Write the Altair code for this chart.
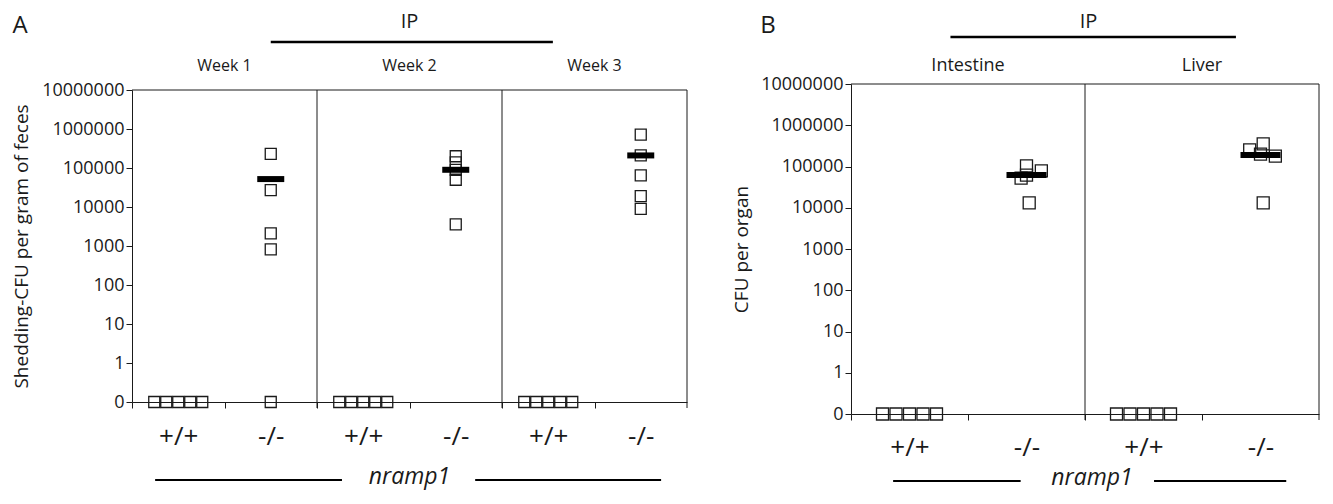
import json
import math
import altair as alt
import pandas as pd

# ---------------- data ----------------
weeks = ["Week 1", "Week 2", "Week 3"]
organs = ["Intestine", "Liver"]
genotypes = ["+/+", "-/-"]
wt_slots = [-2, -1, 0, 1, 2]

a_wt = [[0, 0, 0, 0, 0], [0, 0, 0, 0, 0], [0, 0, 0, 0, 0]]
a_ko = [[230000, 27000, 2100, 820, 0],
        [200000, 140000, 90000, 50000, 3600],
        [720000, 210000, 65000, 19000, 9000]]
a_ko_slots = [[0, 0, 0, 0, 0], [0, 0, 0, 0, 0], [0, 0, 0, 0, 0]]
a_mean = [52000, 90000, 210000]

b_wt = [[0, 0, 0, 0, 0], [0, 0, 0, 0, 0]]
b_ko = [[103000, 78000, 62000, 52000, 13200],
        [252000, 355000, 179000, 200000, 13200]]
b_ko_slots = [[0, 1.1, 0, -0.4, 0.2], [-0.8, 0.2, 1.1, 0, 0.2]]
b_mean = [62000, 190000]

y_tick_values = [0, 1, 10, 100, 1000, 10000, 100000, 1000000, 10000000]

# ---------------- styling ----------------
FONT = "Open Sans"
INK = "#1a1a1a"
LOG_EXPR = "datum.v > 0 ? log(datum.v) / LN10 : -1"


def to_level(v):
    return math.log10(v) if v > 0 else -1


tick_levels = [to_level(t) for t in y_tick_values]
Y_LABEL_EXPR = "datum.value < 0 ? '0' : format(pow(10, round(datum.value)), 'd')"
Y_MIN, Y_MAX = tick_levels[0], tick_levels[-1]
TICK = 6


def panel(groups, wt, ko, ko_slots, means, letter, ytitle, unit, height, top_pad, sq, pitch,
          bar_len, title_x, letter_xy, ip_y, ip_line_y, ip_x, ip_span,
          bottom_spans, bottom_x, bottom_y, xlab_pad, hdr_y, hdr_size):
    n = 2 * len(groups)
    width = unit * n
    total_h = height + top_pad
    rows = []
    for gi in range(len(groups)):
        for k, v in enumerate(wt[gi]):
            rows.append({"g": 2 * gi, "slot": wt_slots[k], "v": v})
        for k, v in enumerate(ko[gi]):
            rows.append({"g": 2 * gi + 1, "slot": ko_slots[gi][k], "v": v})
    pts = pd.DataFrame(rows)
    mean_df = pd.DataFrame({"g": [2 * gi + 1 for gi in range(len(groups))], "v": means})
    hdr = pd.DataFrame({"label": groups, "x": [2 * gi + 1 for gi in range(len(groups))]})
    vlines = pd.DataFrame({"b": [2 * gi for gi in range(1, len(groups) + 1)]})

    xs = alt.Scale(domain=[0, n], nice=False, zero=False)
    ys = alt.Scale(domain=[Y_MIN, Y_MAX], range=[total_h, top_pad], nice=False, zero=False)

    xaxis = alt.Axis(
        values=list(range(n)),
        labelExpr=f"{json.dumps(genotypes)}[datum.value % 2]",
        labelOffset=unit / 2, title=None, grid=False, tickSize=TICK, tickColor=INK,
        domainColor=INK, labelFontSize=26, labelPadding=xlab_pad, labelBaseline="middle",
        labelFlush=False, labelOverlap=False, labelColor=INK, labelFont=FONT,
    )
    yaxis = alt.Axis(
        values=tick_levels, labelExpr=Y_LABEL_EXPR, title=ytitle, grid=False, tickSize=TICK,
        tickColor=INK, domainColor=INK, labelPadding=2, labelFontSize=18, labelColor=INK,
        labelFont=FONT, titleFont=FONT, titleFontSize=19, titleFontWeight="normal",
        titleColor=INK, titleX=title_x, titleY=(top_pad + total_h) / 2, labelOverlap=False,
    )

    def X(field):
        return alt.X(field, scale=xs, axis=xaxis)

    def Y(field):
        return alt.Y(field, scale=ys, axis=yaxis)

    points = alt.Chart(pts).transform_calculate(
        lv=LOG_EXPR, xp=f"datum.g + 0.5 + datum.slot * {pitch / unit}"
    ).mark_point(shape="square", size=sq * sq, filled=False, color=INK,
                 strokeWidth=1.3, opacity=1).encode(x=X("xp:Q"), y=Y("lv:Q"))

    bars = alt.Chart(mean_df).transform_calculate(
        lv=LOG_EXPR, xp="datum.g + 0.5"
    ).mark_tick(orient="horizontal", size=bar_len, thickness=6, color="black",
                opacity=1).encode(x=X("xp:Q"), y=Y("lv:Q"))

    # panel separators and right-hand frame line (reaching down like an axis tick)
    dividers = alt.Chart(vlines).mark_rule(color=INK, strokeWidth=1).encode(
        x=X("b:Q"), y=alt.value(total_h + TICK), y2=alt.value(top_pad))
    # top frame line
    topline = alt.Chart(pd.DataFrame({"x0": [0], "x1": [n], "y": [Y_MAX]})).mark_rule(
        color=INK, strokeWidth=1).encode(x=X("x0:Q"), x2="x1:Q", y=Y("y:Q"))

    headers = alt.Chart(hdr).mark_text(font=FONT, fontSize=hdr_size, color=INK,
                                       baseline="middle").encode(
        x=X("x:Q"), y=alt.value(hdr_y), text="label:N")

    ip_text = alt.Chart(pd.DataFrame({"x": [ip_x], "t": ["IP"]})).mark_text(
        font=FONT, fontSize=20, color=INK, baseline="middle").encode(
        x=X("x:Q"), y=alt.value(ip_y), text="t:N")
    ip_rule = alt.Chart(pd.DataFrame({"x": [ip_span[0]], "x2": [ip_span[1]]})).mark_rule(
        color="black", strokeWidth=2.5).encode(x=X("x:Q"), x2="x2:Q", y=alt.value(ip_line_y))

    bot_rules = alt.Chart(pd.DataFrame({"x": [s[0] for s in bottom_spans],
                                        "x2": [s[1] for s in bottom_spans]})).mark_rule(
        color="black", strokeWidth=2).encode(x=X("x:Q"), x2="x2:Q", y=alt.value(bottom_y))
    bot_text = alt.Chart(pd.DataFrame({"x": [bottom_x], "t": ["nramp1"]})).mark_text(
        font=FONT, fontSize=23, fontStyle="italic", color=INK, baseline="middle").encode(
        x=X("x:Q"), y=alt.value(bottom_y - 3), text="t:N")

    letter_text = alt.Chart(pd.DataFrame({"t": [letter]})).mark_text(
        font=FONT, fontSize=24, color=INK, baseline="middle").encode(
        x=alt.value(letter_xy[0]), y=alt.value(letter_xy[1]), text="t:N")

    return alt.layer(points, bars, dividers, topline, headers, ip_text, ip_rule, bot_rules,
                     bot_text, letter_text).properties(width=width, height=total_h)


panel_a = panel(weeks, a_wt, a_ko, a_ko_slots, a_mean, "A",
                "Shedding-CFU per gram of feces", unit=92.5, height=312, top_pad=6, sq=11,
                pitch=12, bar_len=27, title_x=-101, letter_xy=(-112, -58), ip_y=-62,
                ip_line_y=-42, ip_x=3, ip_span=(1.5, 4.55),
                bottom_spans=[(0.25, 2.27), (3.71, 5.72)], bottom_x=3, bottom_y=318 + 78,
                xlab_pad=28, hdr_y=-18, hdr_size=16)

panel_b = panel(organs, b_wt, b_ko, b_ko_slots, b_mean, "B",
                "CFU per organ", unit=117, height=330, top_pad=0, sq=12, pitch=13.5,
                bar_len=40, title_x=-100, letter_xy=(-83, -58), ip_y=-62, ip_line_y=-47,
                ip_x=2.03, ip_span=(0.85, 3.29), bottom_spans=[(0.36, 1.45), (2.59, 3.72)],
                bottom_x=2.06, bottom_y=330 + 67, xlab_pad=27, hdr_y=-18, hdr_size=18)

chart = alt.hconcat(panel_a, panel_b, spacing=44).properties(
    padding={"left": 3, "top": 4, "right": 0, "bottom": 4}
).configure(font=FONT).configure_view(strokeWidth=0)

chart.save("out.html", embed_options={"renderer": "svg", "actions": False})
